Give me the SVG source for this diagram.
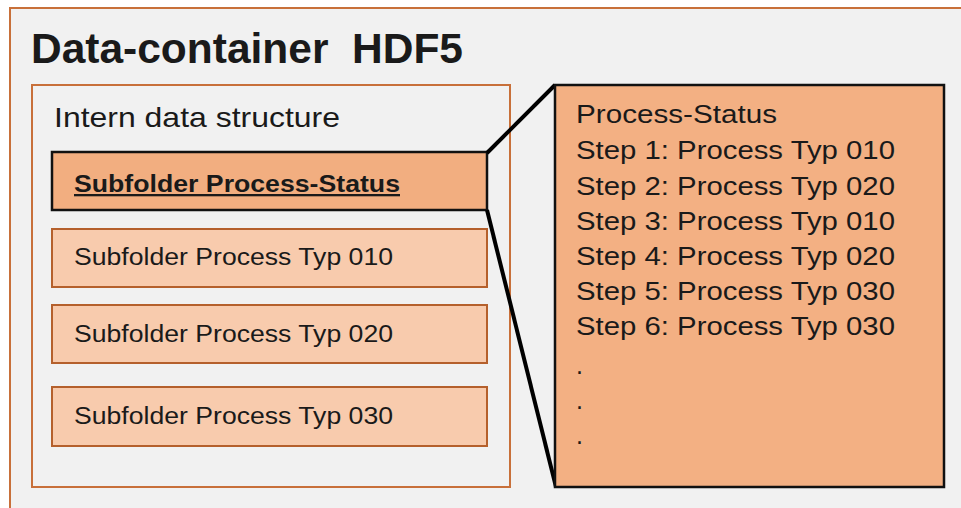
<svg xmlns="http://www.w3.org/2000/svg" width="961" height="508" viewBox="0 0 961 508">
<style>
text{font-family:"Liberation Sans",Arial,sans-serif;fill:#1a1a1a}
.sub{fill:#f8cbad;stroke:#b5602c;stroke-width:2}
.lbl{font-size:23.5px}
.st{font-size:25px}
</style>
<rect x="0" y="0" width="961" height="508" fill="#ffffff"/>
<g id="container">
<rect x="10" y="8" width="960" height="510" fill="#f1f1f1" stroke="#c8703a" stroke-width="2"/>
<text x="31" y="63" font-size="43" font-weight="bold" fill="#000" xml:space="preserve" textLength="432" lengthAdjust="spacingAndGlyphs">Data-container  HDF5</text>
</g>
<g id="intern">
<rect x="32" y="85" width="478" height="402" fill="#f1f1f1" stroke="#c8703a" stroke-width="2"/>
<text x="54" y="127" font-size="28.5" textLength="286" lengthAdjust="spacingAndGlyphs">Intern data structure</text>
</g>
<g id="status-folder">
<rect x="52" y="152" width="435" height="58" fill="#f2ae80" stroke="#111" stroke-width="2.5"/>
<text x="74" y="192" font-size="23" font-weight="bold" text-decoration="underline" textLength="326" lengthAdjust="spacingAndGlyphs">Subfolder Process-Status</text>
</g>
<g id="typ010">
<rect class="sub" x="52" y="229" width="435" height="58"/>
<text class="lbl" x="74" y="265" textLength="319" lengthAdjust="spacingAndGlyphs">Subfolder Process Typ 010</text>
</g>
<g id="typ020">
<rect class="sub" x="52" y="305" width="435" height="58"/>
<text class="lbl" x="74" y="342" textLength="319" lengthAdjust="spacingAndGlyphs">Subfolder Process Typ 020</text>
</g>
<g id="typ030">
<rect class="sub" x="52" y="387" width="435" height="59"/>
<text class="lbl" x="74" y="424" textLength="319" lengthAdjust="spacingAndGlyphs">Subfolder Process Typ 030</text>
</g>
<g id="connectors">
<line x1="487" y1="153" x2="555" y2="85" stroke="#000" stroke-width="4"/>
<line x1="487" y1="210" x2="556" y2="487" stroke="#000" stroke-width="4"/>
</g>
<g id="status-detail">
<rect x="555" y="85" width="389" height="402" fill="#f3b083" stroke="#111" stroke-width="2.5"/>
<text class="st" x="576" y="123" textLength="201" lengthAdjust="spacingAndGlyphs">Process-Status</text>
<text class="st" x="576" y="159" textLength="319" lengthAdjust="spacingAndGlyphs">Step 1: Process Typ 010</text>
<text class="st" x="576" y="195" textLength="319" lengthAdjust="spacingAndGlyphs">Step 2: Process Typ 020</text>
<text class="st" x="576" y="230" textLength="319" lengthAdjust="spacingAndGlyphs">Step 3: Process Typ 010</text>
<text class="st" x="576" y="265" textLength="319" lengthAdjust="spacingAndGlyphs">Step 4: Process Typ 020</text>
<text class="st" x="576" y="300" textLength="319" lengthAdjust="spacingAndGlyphs">Step 5: Process Typ 030</text>
<text class="st" x="576" y="335" textLength="319" lengthAdjust="spacingAndGlyphs">Step 6: Process Typ 030</text>
<text class="st" x="576" y="374">.</text>
<text class="st" x="576" y="409">.</text>
<text class="st" x="576" y="444">.</text>
</g>
</svg>
